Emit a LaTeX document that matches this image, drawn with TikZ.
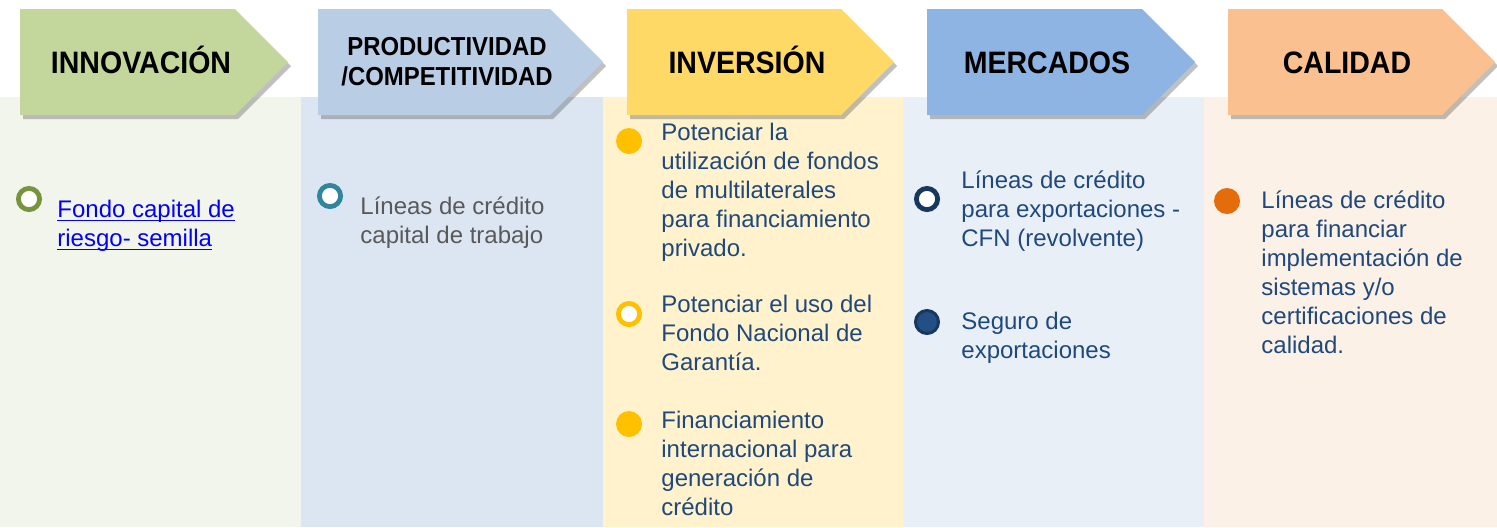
\documentclass[tikz,border=0pt]{standalone}
\usepackage{fontspec}
\setmainfont{Liberation Sans}
\newfontfamily\hdrfont[FakeStretch=0.92]{Liberation Sans}
\usetikzlibrary{shadows}

\newcommand\ulink[1]{\setbox0\hbox{#1}\rlap{\rule[-1.6pt]{\wd0}{0.6pt}}\box0}

\definecolor{bgone}{HTML}{F2F5EC}
\definecolor{bgtwo}{HTML}{DCE6F2}
\definecolor{bgthree}{HTML}{FFF2CC}
\definecolor{bgfour}{HTML}{E9EFF7}
\definecolor{bgfive}{HTML}{FCF1E6}
\definecolor{hdone}{HTML}{C3D69B}
\definecolor{hdtwo}{HTML}{B9CDE5}
\definecolor{hdthree}{HTML}{FFD966}
\definecolor{hdfour}{HTML}{8EB4E3}
\definecolor{hdfive}{HTML}{FAC090}
\definecolor{olive}{HTML}{77933C}
\definecolor{teal}{HTML}{31859C}
\definecolor{gold}{HTML}{FFC000}
\definecolor{navy}{HTML}{17375E}
\definecolor{navyfill}{HTML}{234F85}
\definecolor{orange}{HTML}{E46C0A}
\definecolor{txtblue}{HTML}{1F497D}
\definecolor{txtgray}{HTML}{595959}
\definecolor{linkblue}{HTML}{0000FF}

\tikzset{
    hdr/.style={drop shadow={shadow xshift=1.5pt, shadow yshift=-2pt, opacity=0.35, fill=black!70}},
    hdrtext/.style={font=\hdrfont\fontsize{15.5}{15}\selectfont\bfseries, text=black, align=center, inner sep=0pt, anchor=base},
    item/.style={anchor=north west, inner sep=0pt, align=left, font=\fontsize{12}{14.5}\selectfont, text=txtblue},
    ring/.style={circle, draw=#1, line width=2.4pt, fill=white, inner sep=0pt, minimum size=10.6pt},
    dot/.style={circle, fill=#1, inner sep=0pt, minimum size=13pt}
}

\begin{document}
\begin{tikzpicture}[x=0.5pt, y=-0.5pt]
    \useasboundingbox (0,0) rectangle (1497,527);
    \fill[white] (0,0) rectangle (1497,527);

    % columns
    \fill[bgone] (0,97) rectangle (301,527);
    \fill[bgtwo] (301,97) rectangle (603,527);
    \fill[bgthree] (603,97) rectangle (903,527);
    \fill[bgfour] (903,97) rectangle (1204,527);
    \fill[bgfive] (1204,97) rectangle (1497,527);

    % headers
    \fill[hdone, hdr] (20,9) -- (235,9) -- (288,62) -- (235,115) -- (20,115) -- cycle;
    \fill[hdtwo, hdr] (318,9) -- (550,9) -- (603,62) -- (550,115) -- (318,115) -- cycle;
    \fill[hdthree, hdr] (627,9) -- (841,9) -- (894,62) -- (841,115) -- (627,115) -- cycle;
    \fill[hdfour, hdr] (927,9) -- (1142,9) -- (1195,62) -- (1142,115) -- (927,115) -- cycle;
    \fill[hdfive, hdr] (1228,9) -- (1442,9) -- (1495,62) -- (1442,115) -- (1228,115) -- cycle;

    \node[hdrtext] (innov) at (141,73) {INNOVACIÓN};
    \node[hdrtext, anchor=center, font=\hdrfont\fontsize{13}{15}\selectfont\bfseries] (produc) at (447,62) {PRODUCTIVIDAD\\/COMPETITIVIDAD};
    \node[hdrtext] (invers) at (747,73) {INVERSIÓN};
    \node[hdrtext] (merc) at (1047,73) {MERCADOS};
    \node[hdrtext] (calid) at (1347,73) {CALIDAD};

    % innovacion
    \node[ring=olive] (fondoB) at (29,199) {};
    \node[item, text=linkblue] (fondo) at (57,197) {\strut\ulink{Fondo capital de}\\\ulink{riesgo- semilla}};

    % productividad
    \node[ring=teal] (lineasB) at (330,196) {};
    \node[item, text=txtgray] (lineas) at (360,194) {\strut Líneas de crédito\\capital de trabajo};

    % inversion
    \node[dot=gold] (multiB) at (629,141) {};
    \node[item] (multi) at (661,120) {\strut Potenciar la\\utilización de fondos\\de multilaterales\\para financiamiento\\privado.};
    \node[ring=gold] (garantB) at (629,314) {};
    \node[item] (garant) at (661,292) {\strut Potenciar el uso del\\Fondo Nacional de\\Garantía.};
    \node[dot=gold] (internB) at (629,424) {};
    \node[item] (intern) at (661,408) {\strut Financiamiento\\internacional para\\generación de\\crédito};

    % mercados
    \node[ring=navy] (exportB) at (927,199) {};
    \node[item] (export) at (961,168) {\strut Líneas de crédito\\para exportaciones -\\CFN (revolvente)};
    \node[circle, draw=navy, line width=1.5pt, fill=navyfill, inner sep=0pt, minimum size=11.5pt] (seguroB) at (927,322) {};
    \node[item] (seguro) at (961,309) {\strut Seguro de\\exportaciones};

    % calidad
    \node[dot=orange] (sistB) at (1227,201) {};
    \node[item] (sist) at (1261,188) {\strut Líneas de crédito\\para financiar\\implementación de\\sistemas y/o\\certificaciones de\\calidad.};
\end{tikzpicture}
\end{document}
